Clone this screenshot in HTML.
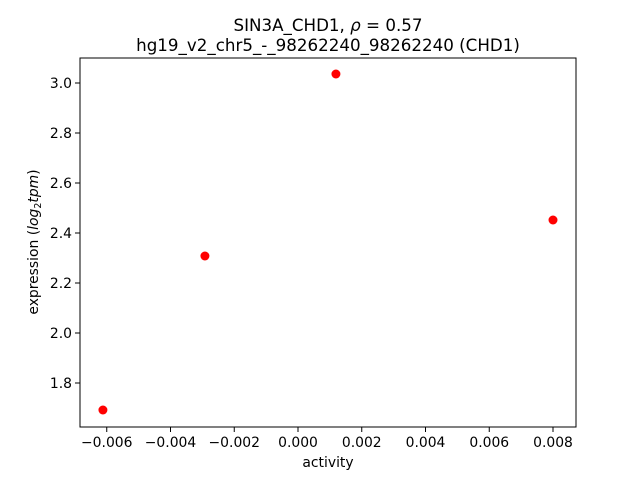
<!DOCTYPE html>
<html><head><meta charset="utf-8"><style>
body{margin:0;background:#fff;}
svg text{font-family:"DejaVu Sans","Liberation Sans",sans-serif;fill:#000;}
</style></head><body>
<svg id="chart" width="640" height="480">
<rect width="640" height="480" fill="#fff"/>
<text x="328" y="31" text-anchor="middle" font-size="16.7">SIN3A_CHD1, <tspan font-style="italic">ρ</tspan> = 0.57</text>
<text x="328" y="51" text-anchor="middle" font-size="16.7">hg19_v2_chr5_-_98262240_98262240 (CHD1)</text>
<g id="xticks"></g><g id="yticks"></g><g id="points"></g>
<rect x="80" y="58" width="496" height="369" fill="none" stroke="#000" stroke-width="1"/>
<text x="328" y="467" text-anchor="middle" font-size="13.9">activity</text>
<text transform="translate(38,242) rotate(-90)" text-anchor="middle" font-size="13.9">expression (<tspan font-style="italic">log</tspan><tspan font-size="9.5" dy="3">2</tspan><tspan dy="-3" font-style="italic">tpm</tspan>)</text>
</svg>
<script>
const xValues=[-0.00612,-0.00292,0.00119,0.0080];
const yValues=[1.692,2.308,3.036,2.452];
const xTicks=[-0.006,-0.004,-0.002,0.000,0.002,0.004,0.006,0.008];
const xTickLabels=["−0.006","−0.004","−0.002","0.000","0.002","0.004","0.006","0.008"];
const yTicks=[1.8,2.0,2.2,2.4,2.6,2.8,3.0];
const yTickLabels=["1.8","2.0","2.2","2.4","2.6","2.8","3.0"];
const NS="http://www.w3.org/2000/svg";
const xs=v=>298+v*31875;
const ys=v=>83+(3.0-v)*250;
const xg=document.getElementById('xticks'),yg=document.getElementById('yticks'),pg=document.getElementById('points');
xTicks.forEach((t,i)=>{
 const x=xs(t);
 const l=document.createElementNS(NS,'line');
 l.setAttribute('x1',x);l.setAttribute('x2',x);l.setAttribute('y1',427);l.setAttribute('y2',432);l.setAttribute('stroke','#000');
 
 
 xg.appendChild(l);
 const tx=document.createElementNS(NS,'text');
 tx.setAttribute('x',x);tx.setAttribute('y',447);tx.setAttribute('text-anchor','middle');tx.setAttribute('font-size','13.9');
 tx.textContent=xTickLabels[i];
 
 
 xg.appendChild(tx);
});
yTicks.forEach((t,i)=>{
 const y=ys(t);
 const l=document.createElementNS(NS,'line');
 l.setAttribute('x1',75);l.setAttribute('x2',80);l.setAttribute('y1',y);l.setAttribute('y2',y);l.setAttribute('stroke','#000');
 
 
 yg.appendChild(l);
 const tx=document.createElementNS(NS,'text');
 tx.setAttribute('x',72);tx.setAttribute('y',y+5);tx.setAttribute('text-anchor','end');tx.setAttribute('font-size','13.9');
 tx.textContent=yTickLabels[i];
 
 
 yg.appendChild(tx);
});
xValues.forEach((v,i)=>{
 const c=document.createElementNS(NS,'circle');
 c.setAttribute('cx',xs(v));c.setAttribute('cy',ys(yValues[i]));c.setAttribute('r',4.5);c.setAttribute('fill','#ff0000');
 
 
 pg.appendChild(c);
});
</script>
</body></html>
